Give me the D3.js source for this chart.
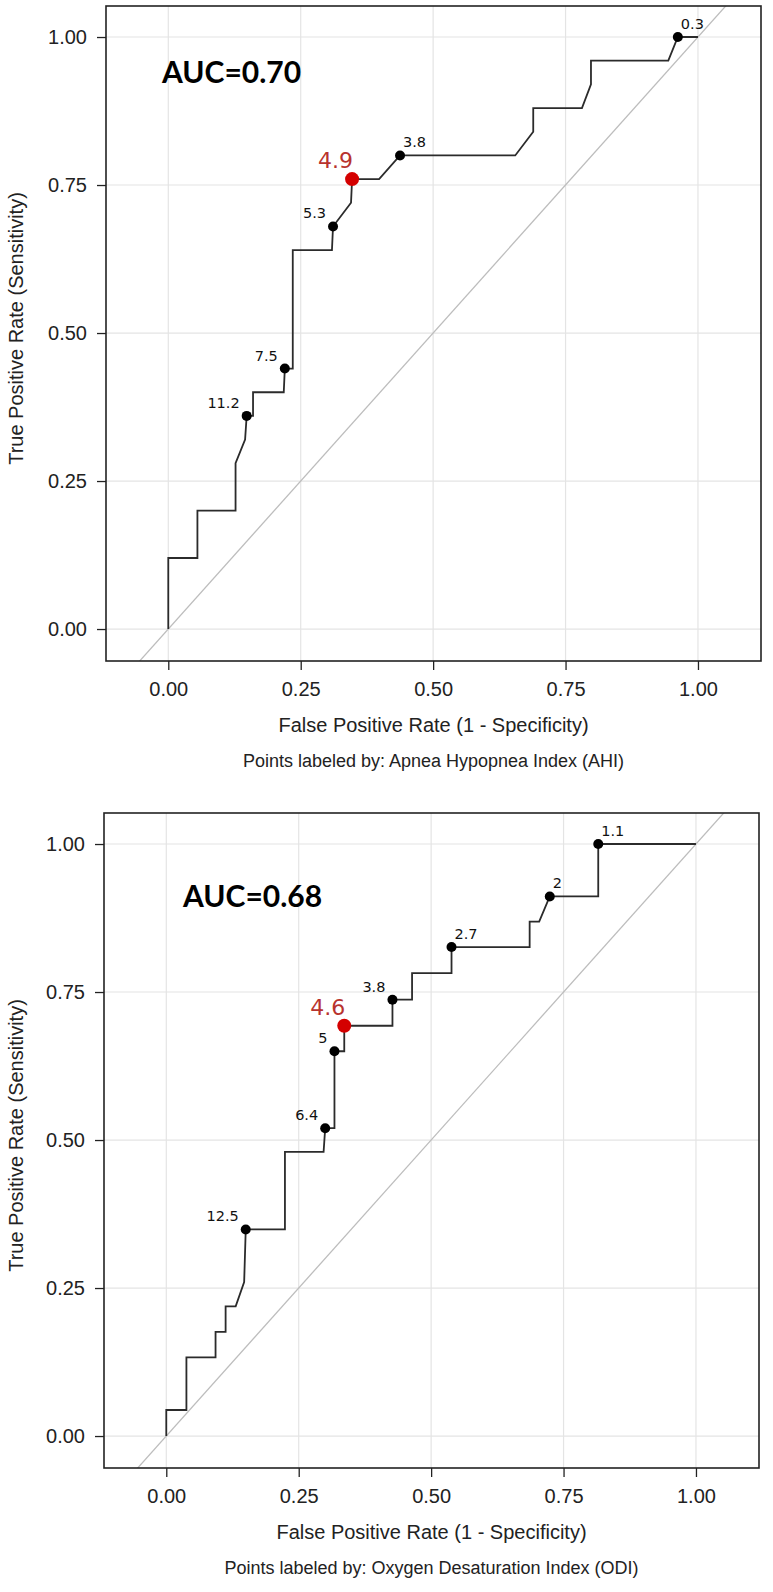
<!DOCTYPE html>
<html lang="en">
<head>
<meta charset="UTF-8">
<script src="https://d3js.org/d3.v7.min.js"></script>
<title>ROC curves AHI / ODI</title>
<style>
  body { margin: 0; background: #fff; }
  svg { display: block; }
  .tick text { font-family: "Liberation Sans", Arial, sans-serif; font-size: 20px; fill: #222; }
  .tick line { stroke: #222; stroke-width: 1.3px; }
</style>
</head>
<body>
<div id="chart"></div>
<script>
// axis ticks
const tickValues = [0, 0.25, 0.5, 0.75, 1];

// AHI curve (top)
const ahiFpr = [0, 0, 0.055, 0.055, 0.127, 0.127, 0.145, 0.148, 0.16, 0.16, 0.218, 0.22, 0.235, 0.235, 0.309, 0.311, 0.345, 0.347, 0.398, 0.4375, 0.655, 0.689, 0.689, 0.781, 0.798, 0.798, 0.944, 0.962, 1.0];
const ahiTpr = [0, 0.12, 0.12, 0.20, 0.20, 0.28, 0.32, 0.36, 0.36, 0.40, 0.40, 0.44, 0.44, 0.64, 0.64, 0.68, 0.72, 0.76, 0.76, 0.80, 0.80, 0.84, 0.88, 0.88, 0.92, 0.96, 0.96, 1.0, 1.0];
const ahiCutLabels = ["11.2", "7.5", "5.3", "4.9", "3.8", "0.3"];
const ahiCutFpr = [0.148, 0.22, 0.311, 0.347, 0.4375, 0.962];
const ahiCutTpr = [0.36, 0.44, 0.68, 0.76, 0.80, 1.0];
const ahiBest = "4.9";
const ahiAuc = "AUC=0.70";
const ahiCaption = "Points labeled by: Apnea Hypopnea Index (AHI)";

// ODI curve (bottom)
const odiFpr = [0, 0, 0.038, 0.038, 0.093, 0.093, 0.112, 0.112, 0.131, 0.147, 0.150, 0.224, 0.224, 0.297, 0.300, 0.3175, 0.3175, 0.336, 0.336, 0.427, 0.427, 0.464, 0.464, 0.5385, 0.5385, 0.686, 0.686, 0.704, 0.724, 0.8155, 0.8155, 1.0];
const odiTpr = [0, 0.044, 0.044, 0.133, 0.133, 0.176, 0.176, 0.219, 0.219, 0.26, 0.349, 0.349, 0.48, 0.48, 0.52, 0.52, 0.65, 0.65, 0.693, 0.693, 0.737, 0.737, 0.782, 0.782, 0.826, 0.826, 0.869, 0.869, 0.9115, 0.9115, 1.0, 1.0];
const odiCutLabels = ["12.5", "6.4", "5", "4.6", "3.8", "2.7", "2", "1.1"];
const odiCutFpr = [0.150, 0.300, 0.3175, 0.336, 0.427, 0.5385, 0.724, 0.8155];
const odiCutTpr = [0.349, 0.52, 0.65, 0.693, 0.737, 0.826, 0.9115, 1.0];
const odiBest = "4.6";
const odiAuc = "AUC=0.68";
const odiCaption = "Points labeled by: Oxygen Desaturation Index (ODI)";

const W = 773, H = 1592;
const svg = d3.select("#chart").append("svg")
    .attr("width", W).attr("height", H);
svg.append("rect").attr("width", W).attr("height", H).attr("fill", "#fff");

const panels = [
  { left: 106, top: 6, fpr: ahiFpr, tpr: ahiTpr, labels: ahiCutLabels, cx: ahiCutFpr, cy: ahiCutTpr,
    best: ahiBest, auc: ahiAuc, aucX: 56, aucY: 77, caption: ahiCaption },
  { left: 104, top: 813, fpr: odiFpr, tpr: odiTpr, labels: odiCutLabels, cx: odiCutFpr, cy: odiCutTpr,
    best: odiBest, auc: odiAuc, aucX: 79, aucY: 94, caption: odiCaption }
];

const pw = 655, ph = 655;

panels.forEach((p, i) => {
  const g = svg.append("g").attr("transform", `translate(${p.left},${p.top})`);

  const x = d3.scaleLinear().domain([-0.1176, 1.119]).range([0, pw]);
  const y = d3.scaleLinear().domain([-0.054, 1.0524]).range([ph, 0]);

  // grid
  g.append("g").selectAll("line").data(tickValues).join("line")
    .attr("x1", d => x(d)).attr("x2", d => x(d)).attr("y1", 0).attr("y2", ph)
    .attr("stroke", "#e4e4e4").attr("stroke-width", 1.2);
  g.append("g").selectAll("line").data(tickValues).join("line")
    .attr("y1", d => y(d)).attr("y2", d => y(d)).attr("x1", 0).attr("x2", pw)
    .attr("stroke", "#e4e4e4").attr("stroke-width", 1.2);

  const clipId = "clip" + i;
  g.append("clipPath").attr("id", clipId)
    .append("rect").attr("width", pw).attr("height", ph);

  // chance diagonal
  g.append("line")
    .attr("clip-path", `url(#${clipId})`)
    .attr("x1", x(-0.06)).attr("y1", y(-0.06))
    .attr("x2", x(1.06)).attr("y2", y(1.06))
    .attr("stroke", "#bdbdbd").attr("stroke-width", 1.3);

  // ROC curve
  const pts = p.fpr.map((f, k) => [f, p.tpr[k]]);
  g.append("path")
    .datum(pts)
    .attr("fill", "none")
    .attr("stroke", "#2b2b2b")
    .attr("stroke-width", 1.8)
    .attr("d", d3.line().x(d => x(d[0])).y(d => y(d[1])));

  // cutoff points
  const cuts = p.labels.map((l, k) => ({ label: l, f: p.cx[k], t: p.cy[k] }));
  g.selectAll("circle.cut").data(cuts).join("circle")
    .attr("class", "cut")
    .attr("cx", d => x(d.f)).attr("cy", d => y(d.t))
    .attr("r", d => d.label === p.best ? 7 : 5)
    .attr("fill", d => d.label === p.best ? "#d40000" : "#000");

  g.selectAll("text.cut").data(cuts).join("text")
    .attr("class", "cut")
    .attr("x", d => d.label === p.best ? x(d.f) + 1 : (d.f < 0.43 ? x(d.f) - 7 : x(d.f) + 3))
    .attr("y", d => y(d.t) - (d.label === p.best ? 11 : 8))
    .attr("text-anchor", d => (d.label === p.best || d.f < 0.43) ? "end" : "start")
    .attr("font-family", "DejaVu Sans, sans-serif")
    .attr("font-size", d => d.label === p.best ? 22 : 14.5)
    .attr("fill", d => d.label === p.best ? "#b8332e" : "#111")
    .text(d => d.label);

  // AUC annotation
  g.append("text")
    .attr("x", p.aucX).attr("y", p.aucY)
    .attr("font-family", "Lato, sans-serif")
    .attr("font-weight", "bold")
    .attr("font-size", 30)
    .attr("fill", "#000")
    .text(p.auc);

  // axes
  g.append("g")
    .attr("transform", `translate(0,${ph})`)
    .call(d3.axisBottom(x).tickValues(tickValues).tickFormat(d3.format(".2f")).tickSize(9).tickPadding(12))
    .call(a => a.select(".domain").remove());
  g.append("g")
    .call(d3.axisLeft(y).tickValues(tickValues).tickFormat(d3.format(".2f")).tickSize(9).tickPadding(10))
    .call(a => a.select(".domain").remove());

  // panel border
  g.append("rect")
    .attr("width", pw).attr("height", ph)
    .attr("fill", "none").attr("stroke", "#222").attr("stroke-width", 1.6);

  // axis titles
  g.append("text")
    .attr("x", pw / 2).attr("y", ph + 71)
    .attr("text-anchor", "middle")
    .attr("font-family", "Liberation Sans, Arial, sans-serif")
    .attr("font-size", 20).attr("fill", "#222")
    .text("False Positive Rate (1 - Specificity)");

  g.append("text")
    .attr("x", pw / 2).attr("y", ph + 106)
    .attr("text-anchor", "middle")
    .attr("font-family", "Liberation Sans, Arial, sans-serif")
    .attr("font-size", 18).attr("fill", "#222")
    .text(p.caption);

  g.append("text")
    .attr("transform", "rotate(-90)")
    .attr("x", -ph / 2 + 5).attr("y", -p.left + 23)
    .attr("text-anchor", "middle")
    .attr("font-family", "Liberation Sans, Arial, sans-serif")
    .attr("font-size", 20).attr("fill", "#222")
    .text("True Positive Rate (Sensitivity)");
});
</script>
</body>
</html>
